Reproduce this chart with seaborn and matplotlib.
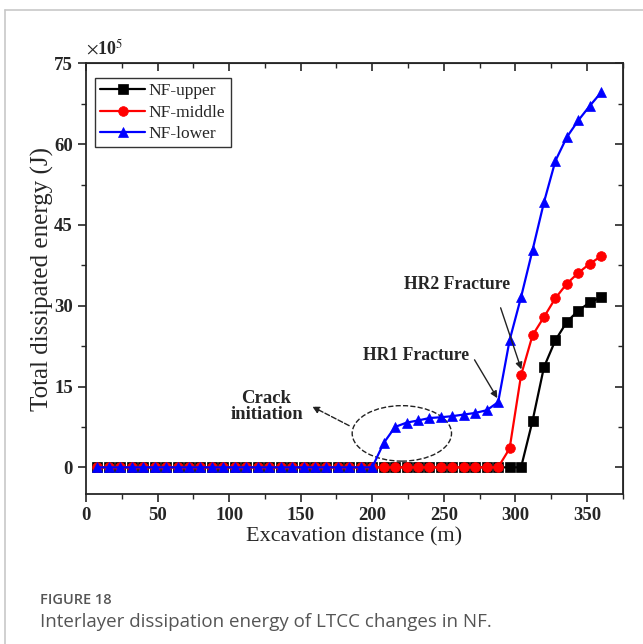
import numpy as np
import pandas as pd
import seaborn as sns
import matplotlib
matplotlib.use("Agg")
import matplotlib.pyplot as plt
from matplotlib.patches import Ellipse
from matplotlib.lines import Line2D
from matplotlib.ticker import MultipleLocator

# excavation distance (m), one reading every 8 m
distance = [8, 16, 24, 32, 40, 48, 56, 64, 72, 80, 88, 96, 104, 112, 120,
            128, 136, 144, 152, 160, 168, 176, 184, 192, 200, 208, 216, 224,
            232, 240, 248, 256, 264, 272, 280, 288, 296, 304, 312, 320, 328,
            336, 344, 352, 360]

# total dissipated energy (x10^5 J)
nf_upper = [0, 0, 0, 0, 0, 0, 0, 0, 0, 0, 0, 0, 0, 0, 0,
            0, 0, 0, 0, 0, 0, 0, 0, 0, 0, 0, 0, 0,
            0, 0, 0, 0, 0, 0, 0, 0, 0, 0, 8.6, 18.6, 23.6,
            27.0, 29.1, 30.6, 31.6]
nf_middle = [0, 0, 0, 0, 0, 0, 0, 0, 0, 0, 0, 0, 0, 0, 0,
             0, 0, 0, 0, 0, 0, 0, 0, 0, 0, 0, 0, 0,
             0, 0, 0, 0, 0, 0, 0, 0, 3.5, 17.1, 24.5, 27.9, 31.4,
             34.1, 36.1, 37.8, 39.2]
nf_lower = [0, 0, 0, 0, 0, 0, 0, 0, 0, 0, 0, 0, 0, 0, 0,
            0, 0, 0, 0, 0, 0, 0, 0, 0, 0, 4.5, 7.5, 8.3,
            8.7, 9.15, 9.3, 9.5, 9.8, 10.1, 10.6, 12.1, 23.6, 31.6, 40.3, 49.2, 56.9,
            61.3, 64.4, 67.1, 69.6]

series_names = ["NF-upper", "NF-middle", "NF-lower"]
colors = {"NF-upper": "black", "NF-middle": "#ff0000", "NF-lower": "#0000ff"}
markers = {"NF-upper": "s", "NF-middle": "o", "NF-lower": "^"}
msizes = {"NF-upper": 6.5, "NF-middle": 7, "NF-lower": 7}

df = pd.DataFrame({"distance": distance, "NF-upper": nf_upper,
                   "NF-middle": nf_middle, "NF-lower": nf_lower})

sns.set_style("ticks")
plt.rcParams["font.family"] = ["Liberation Serif", "DejaVu Serif"]
plt.rcParams["mathtext.fontset"] = "stix"

fig = plt.figure(figsize=(6.43, 6.44), dpi=100)
ax = fig.add_axes([0.1337, 0.2325, 0.8347, 0.6692])

for name in series_names:
    sns.lineplot(data=df, x="distance", y=name, color=colors[name],
                 marker=markers[name], markersize=msizes[name],
                 markeredgecolor=colors[name], markeredgewidth=0.5,
                 linewidth=1.6, ax=ax, label=name)

ax.set_xlim(0, 375)
ax.set_ylim(-5, 75)
ax.xaxis.set_major_locator(MultipleLocator(50))
ax.xaxis.set_minor_locator(MultipleLocator(25))
ax.yaxis.set_major_locator(MultipleLocator(15))
ax.yaxis.set_minor_locator(MultipleLocator(7.5))
ax.tick_params(which="major", direction="out", length=6, width=1.2,
               labelsize=13.5)
ax.tick_params(which="minor", direction="out", length=3.5, width=1.0)
for lab in ax.get_xticklabels() + ax.get_yticklabels():
    lab.set_fontweight("bold")
for s in ax.spines.values():
    s.set_linewidth(1.3)
    s.set_visible(True)

# mirrored ticks on top and right pointing inward
top = ax.secondary_xaxis("top")
top.xaxis.set_major_locator(MultipleLocator(50))
top.xaxis.set_minor_locator(MultipleLocator(25))
top.tick_params(which="major", direction="in", length=6, width=1.2, labeltop=False)
top.tick_params(which="minor", direction="in", length=3.5, width=1.0)
right = ax.secondary_yaxis("right")
right.yaxis.set_major_locator(MultipleLocator(15))
right.yaxis.set_minor_locator(MultipleLocator(7.5))
right.tick_params(which="major", direction="in", length=6, width=1.2, labelright=False)
right.tick_params(which="minor", direction="in", length=3.5, width=1.0)

ax.set_xlabel("Excavation distance (m)", fontsize=16, labelpad=2)
ax.set_ylabel("Total dissipated energy (J)", fontsize=18, labelpad=0)
ax.text(0.0, 1.012, r"$\times$10$^{5}$", transform=ax.transAxes,
        fontsize=13, fontweight="bold", ha="left", va="bottom")

leg = ax.legend(loc="upper left", fontsize=12.5,
                frameon=True, fancybox=False, handlelength=2.6,
                handletextpad=0.2, borderpad=0.3, labelspacing=0.3,
                bbox_to_anchor=(0.017, 0.966), borderaxespad=0.0)
leg.get_frame().set_edgecolor("#333333")
leg.get_frame().set_linewidth(1.0)
leg.get_frame().set_alpha(1.0)

# annotations
ax.add_patch(Ellipse((220.7, 6.3), 69.4, 10.3, fill=False, linestyle="--",
                     edgecolor="#222222", linewidth=1.0))
ax.annotate("", xy=(156.4, 11.5), xytext=(185.6, 7.5),
            arrowprops=dict(arrowstyle="-|>", linestyle="--", color="#222222",
                            linewidth=1.0, mutation_scale=10))
ax.text(126.2, 11.3, "Crack\ninitiation", fontsize=13.5, fontweight="bold",
        ha="center", va="center", linespacing=0.9)
ax.text(230.7, 20.8, "HR1 Fracture", fontsize=12.7, fontweight="bold",
        ha="center", va="center")
ax.annotate("", xy=(288.4, 12.4), xytext=(270.5, 20.4),
            arrowprops=dict(arrowstyle="-|>", color="#222222", linewidth=1.0,
                            mutation_scale=10))
ax.text(259.5, 34.0, "HR2 Fracture", fontsize=12.7, fontweight="bold",
        ha="center", va="center")
ax.annotate("", xy=(304.8, 17.7), xytext=(289.1, 30.1),
            arrowprops=dict(arrowstyle="-|>", color="#222222", linewidth=1.0,
                            mutation_scale=10))

# page frame and caption
fig.add_artist(Line2D([5 / 643, 1.0], [1 - 10 / 644, 1 - 10 / 644],
                      color="#c8c8c8", linewidth=1.2, transform=fig.transFigure))
fig.add_artist(Line2D([5 / 643, 5 / 643], [0.0, 1 - 10 / 644],
                      color="#c8c8c8", linewidth=1.2, transform=fig.transFigure))
fig.text(40 / 643, 1 - 600 / 644, "FIGURE 18", fontsize=10.5, color="#555555",
         family=["Open Sans", "DejaVu Sans"], fontweight="semibold",
         ha="left", va="center")
fig.text(40 / 643, 1 - 622 / 644,
         "Interlayer dissipation energy of LTCC changes in NF.",
         fontsize=13.5, color="#555555", family=["Open Sans", "DejaVu Sans"],
         ha="left", va="center")

fig.savefig("out.png", dpi=100)
